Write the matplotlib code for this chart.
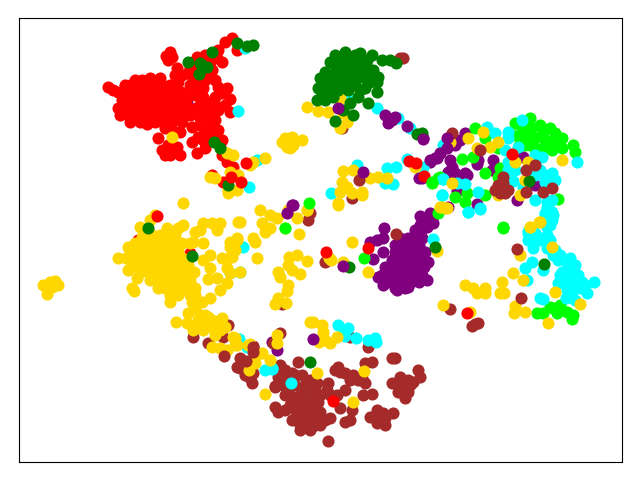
import matplotlib
matplotlib.use("Agg")
import matplotlib.pyplot as plt

# embedding coordinates
red_pts = [(108,87),(113,90),(118,92),(122,95),(135,80),(142,80),(150,78),(160,78),(125,85),(130,85),(138,85),(146,85),(154,85),(162,85),(170,85),
    (122,92),(128,92),(134,92),(142,92),(150,92),(158,92),(166,92),(174,92),(181,92),(122,100),(130,100),(138,100),(146,100),(154,100),(162,100),(170,100),(178,100),(186,100),
    (118,108),(124,108),(132,108),(140,108),(148,108),(156,108),(164,108),(172,108),(180,108),(188,108),(196,108),(120,115),(128,115),(136,115),(144,115),(152,115),(160,115),(168,115),(176,115),
    (130,122),(140,122),(147,124),(155,122),(163,122),(172,122),(180,118),(177,68),(175,75),(178,82),(190,67),(188,73),(193,80),(197,85),(203,88),(215,80),(218,87),(227,88),(222,93),(230,99),
    (215,97),(210,103),(203,97),(200,105),(210,113),(218,110),(230,112),(207,120),(200,118),(192,127),(182,122),(175,132),(180,132),(158,138),(162,150),(170,155),(177,147),(168,145),(192,142),
    (198,137),(205,132),(212,128),(218,130),(222,140),(220,147),(205,148),(197,153),(203,140),(197,57),(205,55),(210,62),(205,70),(198,75),(217,58),(218,50),(225,42),(232,38),(237,50),(190,85),
    (166,56),(170,52),(172,57),(168,60),(193,62),(212,70),(222,62),(227,162),(233,167),(222,155),(138,240),(187,261),(190,253),(212,175),(223,182),
    (185,115),(190,115),(195,95),(205,110),(215,105),(190,95),(200,125),(165,128),(210,140),(212,135),(182,75),(195,70),(205,80),(210,75),(225,105),(180,155),(165,155),(215,120)]
green_pts = [(338,57),(345,58),(360,53),(367,60),(382,60),(390,60),(396,63),(335,65),(325,72),(320,78),(318,88),(317,100),(323,87),(328,82),(335,73),(342,68),(350,65),(358,63),(367,68),(373,70),
    (378,77),(377,82),(370,82),(377,92),(358,97),(368,103),(365,88),(355,85),(348,80),(340,78),(333,83),(340,88),(348,90),(357,77),(363,77),(328,93),(333,97),(325,100),(350,103),(353,115),(335,121),
    (343,110),(350,72),(343,60),(352,58),(417,134),(237,43),(247,46),(253,45),(212,52),(188,62),(200,63),(207,67),(199,74),(214,142),(220,148),(228,185),(148,228),(192,256),(349,267),
    (544,264),(435,247),(529,181),(422,133),(310,362),(330,62),(335,55),(345,52),(355,55),(372,55),(330,78),(345,72),(355,70),(362,70),(338,90),(360,90),(352,75),(330,90),(322,95),(372,75)]
purple_pts = [(187,103),(420,216),(430,215),(433,223),(420,225),(427,227),(415,230),(370,242),(377,240),(383,238),(384,228),(383,252),(373,259),(428,262),(427,280),(408,287),(397,290),(383,285),(378,277),
    (400,238),(408,238),(415,238),(422,238),(395,245),(403,245),(411,245),(419,245),(395,252),(403,252),(411,252),(419,252),(425,252),(392,260),(400,260),(408,260),(416,260),(424,260),
    (385,267),(393,267),(401,267),(409,267),(417,267),(424,267),(382,275),(390,275),(398,275),(406,275),(414,275),(422,275),(387,282),(395,282),(403,282),(411,282),(419,282),(395,288),(405,288),
    (423,138),(465,133),(448,138),(455,145),(445,147),(440,153),(435,158),(430,162),(452,167),(448,172),(455,173),(465,173),(467,175),(453,180),(463,178),(477,164),(478,160),(493,160),(492,170),
    (524,124),(523,157),(535,185),(517,200),(477,204),(448,207),(423,218),(432,220),(430,213),(423,228),(457,191),(422,178),(277,350),(272,342),(450,160),(460,140)]
brown_pts = [(228,325),(193,337),(208,343),(223,337),(273,343),(280,333),(298,362),(280,375),(275,387),(285,370),(295,375),(275,407),(280,365),(278,377),(275,386),(283,385),(292,373),(302,375),(310,380),
    (317,383),(293,397),(303,392),(312,395),(290,405),(298,403),(307,403),(313,408),(278,412),(292,420),(300,415),(305,423),(312,427),(320,425),(330,418),(325,420),(310,418),(297,412),(328,441),
    (338,367),(335,370),(345,373),(353,375),(362,378),(365,383),(365,363),(372,362),(392,358),(395,358),(328,383),(327,390),(337,395),(345,390),(340,408),(352,410),(345,422),(350,420),(363,395),
    (372,394),(370,417),(377,410),(383,413),(393,413),(377,423),(385,425),(392,383),(400,377),(408,380),(418,370),(420,377),(398,392),(405,398),(410,385),(413,382),(405,388),(368,347),(350,337),
    (245,375),(253,373),(252,383),(400,58),(403,58),(353,58),(342,128),(352,198),(308,220),(310,213),(325,262),(282,304),(253,346),(450,309),(475,324),(478,323),(472,326),
    (300,395),(318,402),(288,392),(320,412),(300,425),(312,420),(285,395),(295,385),(305,385),(315,390),(285,410),(295,410),(305,410),(320,395),(330,395),(300,430),(310,430),(285,380),(300,420),(320,418),
    (375,418),(385,418),(402,383),(408,392),(340,372),(350,380),(358,380),(245,368),(240,368),(250,378)]
brown_top = [(224,356),(240,358),(237,367),(246,361),(253,347),(253,352),(359,180),(396,234),(452,133),(480,150),(498,185),(503,183),(500,193),(505,193),(495,190),(508,190),(503,177),(526,170),(535,165),
    (526,192),(552,188),(543,192),(521,298),(517,249)]
gold_pts = [(50,282),(55,281),(47,287),(43,285),(58,285),(47,294),(52,287),(118,258),(128,247),(128,270),(137,278),(132,288),(134,291),(140,227),(142,237),(150,220),(155,215),(167,228),(183,203),(183,225),
    (178,228),(193,242),(203,243),(145,235),(152,235),(160,235),(168,235),(175,235),(135,243),(142,243),(150,243),(158,243),(166,243),(174,243),(182,243),(190,243),(130,250),(138,250),(146,250),(154,250),(162,250),(170,250),(178,250),
    (126,258),(134,258),(142,258),(150,258),(158,258),(166,258),(174,258),(182,258),(132,265),(140,265),(148,265),(156,265),(164,265),(172,265),(180,265),(188,265),(140,272),(148,272),(156,272),(164,272),(172,272),(180,272),(188,272),(194,272),
    (150,280),(158,280),(166,280),(172,280),(180,280),(190,280),(158,288),(165,288),(175,288),(185,288),(195,288),(170,295),(178,295),(190,295),(170,302),(192,302),(195,308),(210,298),(202,302),(193,297),
    (203,260),(210,255),(222,258),(210,268),(208,279),(217,278),(227,268),(227,283),(220,290),(232,257),(230,242),(237,240),(203,223),(212,223),(220,223),(217,230),(200,230),(195,232),(238,222),(228,193),(230,247),
    (188,313),(205,315),(222,318),(240,222),(260,210),(262,223),(270,215),(270,228),(265,232),(277,218),(253,238),(255,242),(257,258),(237,238),(235,250),(230,257),(240,272),(230,273),(297,218),(307,210),(288,210),(285,228),(299,234),
    (289,257),(297,255),(307,261),(288,265),(278,272),(280,277),(292,270),(300,274),(288,285),(287,291),(278,298),(275,304),(286,303),(329,258),(331,260),(343,262),(352,242),(338,205),(313,322),(322,325),(323,332),(325,340),(330,343),(337,337),(319,342),
    (277,335),(277,343),(235,338),(235,345),(250,344),(176,322),(187,323),(198,320),(208,317),(220,320),(193,330),(203,330),(212,327),(220,330),(225,327),(212,347),(220,348),(227,350),(233,337),(237,345),(248,345),(262,353),(255,357),(255,363),(270,360),(249,370),(265,394),(310,322),
    (364,371),(317,373),(353,402),(368,272),(437,251),(513,273),(502,282),(500,293),(504,293),(465,285),(473,288),(485,288),(477,293),(485,293),(443,305),(470,312),(515,306),(514,313),(525,312),(548,323),(580,304),(555,292),(520,255),(523,280),(530,227),(539,222),(552,247),
    (468,138),(483,132),(490,147),(498,142),(477,148),(562,160),(515,162),(528,162),(440,207),(445,208),(520,195),(525,180),(530,227),(540,222),(452,183),(498,195),(450,142),(307,107),(318,111),(328,112),(340,98),(347,122),(340,128),(327,78),(343,113),
    (302,140),(292,137),(293,145),(290,148),(343,171),(353,170),(342,182),(347,187),(340,192),(338,203),(352,193),(362,192),(362,195),(370,178),(378,177),(387,178),(415,167),(442,207),(447,208),(307,210),
    (227,153),(233,155),(265,158),(253,162),(250,165),(282,142),(285,138),(287,147),(210,177),(215,178),(238,175),(228,190),(237,190),(172,137),(230,172),(178,285),(195,295),(200,315),(195,325),(212,320),(207,325),(215,335)]
lime_pts = [(515,123),(532,128),(520,135),(527,138),(520,143),(535,138),(543,133),(555,133),(562,138),(548,142),(557,145),(562,148),(543,148),(573,145),(575,152),(475,128),(485,138),(462,159),(485,173),(500,168),(498,177),
    (432,183),(440,177),(455,197),(467,193),(465,202),(485,195),(558,199),(503,227),(438,213),(498,148),(473,157),(503,228),(364,258),(537,313),(543,313),(553,308),(560,305),(557,313),(567,312),(573,315),(572,319),(550,307),(438,178),
    (525,128),(525,145),(540,125),(550,128),(535,148),(552,150),(512,135),(530,118),(520,125),(545,140),(555,140),(530,145)]
lime_top = [(309,203),(285,228),(432,182)]
cyan_pts = [(238,111),(245,48),(249,187),(257,160),(243,247),(240,272),(230,273),(338,325),(343,335),(348,328),(356,338),(247,347),(239,339),(265,370),(272,369),(291,383),(272,368),(345,330),(345,336),(368,340),(375,338),(376,342),
    (347,94),(377,108),(398,118),(410,128),(357,165),(387,168),(396,167),(385,183),(393,184),(331,193),(407,159),(423,167),(443,179),(442,195),(443,145),(433,239),(540,298),(543,299),(528,233),(528,240),(537,237),(547,235),(533,248),(547,248),(553,255),
    (532,262),(525,268),(527,280),(543,270),(558,260),(570,258),(562,272),(573,268),(558,283),(565,280),(573,277),(582,282),(594,282),(570,297),(587,293),(573,290),(567,290),(580,288),(547,207),(553,215),(548,223),(545,213),(468,212),(480,208),
    (522,120),(487,127),(495,133),(508,132),(508,138),(505,150),(518,147),(535,155),(542,157),(577,162),(552,173),(535,175),(508,162),(508,170),(513,181),(545,182),(523,187),(535,200),(547,202),(552,212),(545,215),(552,220),(547,227),(528,231),(535,233),
    (442,195),(443,179),(457,183),(465,184),(478,192),(468,212),(480,209),(445,145),(575,265),(568,265),(566,275),(578,275),(572,283),(566,298),(575,300),(560,275),(585,285),(550,240),(555,250),(560,255),(540,240),(550,225),(552,200),
    (540,170),(545,175),(530,165),(555,180),(515,170)]
red_top = [(157,216),(333,401),(326,252),(409,161),(416,163),(424,176),(512,154),(246,163),(241,182),(231,177),(368,248),(467,313)]
purple_top = [(292,205),(287,213),(313,339),(343,266),(338,108),(385,115),(388,123),(395,117),(392,120),(407,126),(423,139),(363,172),(419,178),(430,160),(437,158),(440,153),(447,148),(447,138),(293,205)]

# drawing order: first layers end up underneath
layers = [(purple_pts, "purple"), (red_pts, "red"), (brown_pts, "brown"), (lime_pts, "lime"), (cyan_pts, "cyan"),
          (gold_pts, "gold"), (green_pts, "green"), (brown_top, "brown"), (purple_top, "purple"), (red_top, "red"), (lime_top, "lime")]

fig = plt.figure(figsize=(6.4, 4.8), dpi=100)
ax = fig.add_axes([19 / 640, 1 - 462 / 480, 603 / 640, 444 / 480])
for pts, c in layers:
    ax.scatter([p[0] for p in pts], [p[1] for p in pts], s=76, c=c, linewidths=0)
ax.set_xlim(19, 622)
ax.set_ylim(462, 18)
ax.set_xticks([])
ax.set_yticks([])
fig.savefig("out.png", dpi=100)
